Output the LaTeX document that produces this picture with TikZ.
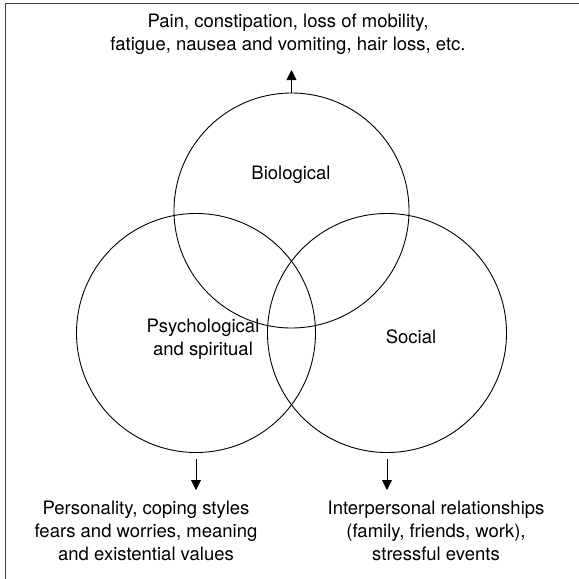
\documentclass[tikz,border=0pt]{standalone}
\usepackage{fontspec}
\setmainfont{TeX Gyre Heros}
\usetikzlibrary{arrows.meta, positioning}

\begin{document}
\begin{tikzpicture}[
  x=1pt, y=-1pt,
  sphere/.style={draw, circle, minimum size=239pt, inner sep=0pt, line width=0.9pt},
  note/.style={align=center, inner sep=0pt, font=\fontsize{18.5}{23}\selectfont},
  arr/.style={-{Triangle[length=10pt, width=10pt]}, line width=0.9pt}
]
\useasboundingbox (0,0) rectangle (579,579);
\fill[white] (0,0) rectangle (579,579);
\begin{scope}
  \clip (0,0) rectangle (579,579);
  \draw[line width=1.8pt, black!75] (5.5,3.5) rectangle (600,600);
\end{scope}

% the three domains
\node[sphere, minimum size=235pt] (bio) at (291.5,210.5) {};
\node[sphere] (psy) at (196,333) {};
\node[sphere] (soc) at (387,333) {};

\node[note] (biotxt) at (291,175) {Biological};
\node[note] (psytxt) at (203,339) {Psychological\\and spiritual};
\node[note] (soctxt) at (411,337) {Social};

% what each domain brings in
\node[note] (physical) at (288,34) {Pain, constipation, loss of mobility,\\fatigue, nausea and vomiting, hair loss, etc.};
\node[note] (inner) at (146,531) {Personality, coping styles\\fears and worries, meaning\\and existential values};
\node[note] (outer) at (436,531) {Interpersonal relationships\\(family, friends, work),\\stressful events};

\coordinate (biotip) at (291.5,70);
\coordinate (psytip) at (196,490);
\coordinate (soctip) at (387,490);

\draw[arr] (bio.north) -- (biotip);
\draw[arr, shorten <=6pt] (psy.south) -- (psytip);
\draw[arr, shorten <=6pt] (soc.south) -- (soctip);

\end{tikzpicture}
\end{document}
